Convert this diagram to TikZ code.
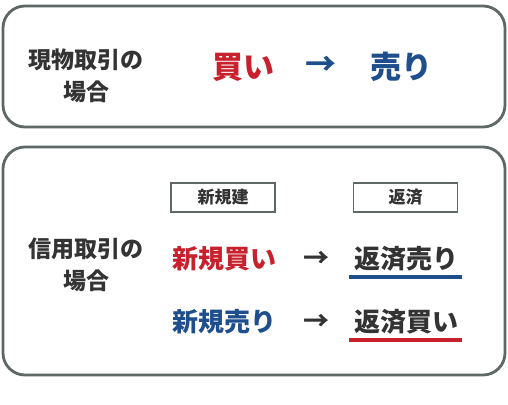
\documentclass[tikz,border=0pt]{standalone}
\usepackage{fontspec}
\newfontfamily\jp{Noto Sans CJK JP}
\definecolor{cred}{HTML}{C8202C}
\definecolor{cblue}{HTML}{1F4E8C}
\definecolor{ctext}{HTML}{333333}
\definecolor{cframe}{HTML}{5F6767}
\begin{document}
\begin{tikzpicture}[x=1pt,y=-1pt,
  frame/.style={draw=cframe,line width=2.8pt,rounded corners=22pt},
  lab/.style={font=\jp\bfseries\fontsize{23}{32}\selectfont,text=ctext,align=center,inner sep=0pt},
  big/.style={font=\jp\bfseries\fontsize{31}{34}\selectfont,inner sep=0pt},
  mid/.style={font=\jp\bfseries\fontsize{26}{30}\selectfont,inner sep=0pt},
  tag/.style={draw=cframe,line width=1.6pt,minimum width=104pt,minimum height=29pt,font=\jp\bfseries\fontsize{17}{20}\selectfont,text=ctext,inner sep=0pt},
  uline/.style={line width=3.5pt}]
\useasboundingbox (0,0) rectangle (508,404);
\fill[white] (0,0) rectangle (508,404);
% box 1
\draw[frame] (3,6) rectangle (505,127);
\node[lab] (l1) at (86,76) {現物取引の\\場合};
\node[big,text=cred] (b1) at (243,67) {買い};
\node[big,text=cblue] (a1) at (321,66) {→};
\node[big,text=cblue] (s1) at (401,67) {売り};
% box 2
\draw[frame] (3,147) rectangle (505,375);
\node[lab] (l2) at (86,265) {信用取引の\\場合};
\node[tag] (t1) at (223,197.5) {新規建};
\node[tag] (t2) at (405.5,197.5) {返済};
\node[mid,text=cred] (n1) at (224.5,259) {新規買い};
\node[mid,text=ctext] (a2) at (316,259) {→};
\node[mid,text=ctext] (r1) at (406,259) {返済売り};
\node[mid,text=cblue] (n2) at (224.5,322) {新規売り};
\node[mid,text=ctext] (a3) at (316,322) {→};
\node[mid,text=ctext] (r2) at (406,322) {返済買い};
\coordinate (u1a) at (349,277);
\coordinate (u1b) at (462,277);
\coordinate (u2a) at (349,340);
\coordinate (u2b) at (462,340);
\draw[uline,cblue] (u1a) -- (u1b);
\draw[uline,cred] (u2a) -- (u2b);
\end{tikzpicture}
\end{document}
